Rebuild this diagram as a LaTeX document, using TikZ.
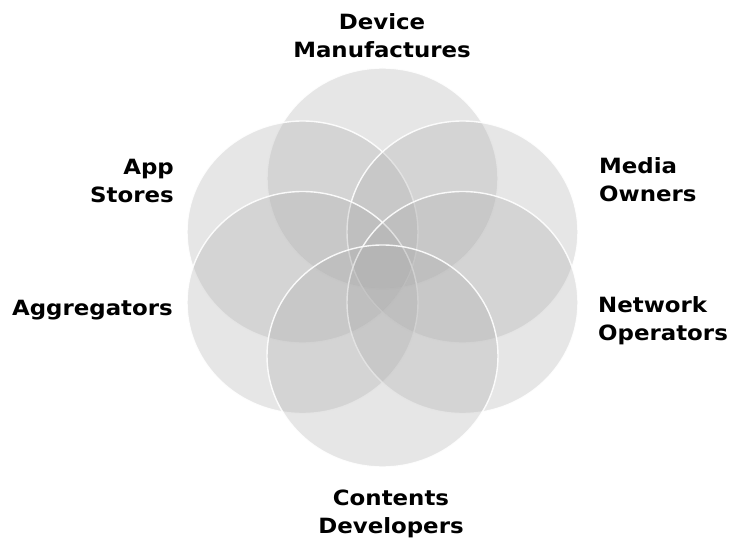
\documentclass[tikz,border=0pt]{standalone}
\usepackage{fontspec}
\setmainfont{DejaVu Sans}
\newfontfamily\labelfont[FakeStretch=1.09]{DejaVu Sans}
\begin{document}
\begin{tikzpicture}[x=1pt,y=-1pt,
  petal/.style={fill=black!33,fill opacity=0.3,draw=white,draw opacity=0.9,line width=1.4pt},
  lbl/.style={font=\labelfont\bfseries\fontsize{21}{28}\selectfont,inner sep=0pt},
  lblc/.style={lbl,align=center},
  lbll/.style={lbl,align=left},
  lblr/.style={lbl,align=right}]
\useasboundingbox (0,0) rectangle (729,545);
% six overlapping petals
\path[petal] (382.5,178.5) ellipse [x radius=115.5,y radius=110.5];
\path[petal] (302.5,232) ellipse [x radius=115.5,y radius=111];
\path[petal] (462.5,232) ellipse [x radius=115.5,y radius=111];
\path[petal] (302.5,302.5) ellipse [x radius=115.5,y radius=111];
\path[petal] (462.5,302.5) ellipse [x radius=115.5,y radius=111];
\path[petal] (382.5,356) ellipse [x radius=115.5,y radius=111];
% labels
\node[lblc] (dev) at (382,36) {Device\\Manufactures};
\node[lblr,anchor=east] (app) at (174,181) {App\\Stores};
\node[lbll,anchor=west] (media) at (599,180) {Media\\Owners};
\node[lblr,anchor=east] (agg) at (173,310) {Aggregators};
\node[lbll,anchor=west] (net) at (598,321) {Network\\Operators};
\node[lblc] (cont) at (391,514) {Contents\\Developers};
\end{tikzpicture}
\end{document}
